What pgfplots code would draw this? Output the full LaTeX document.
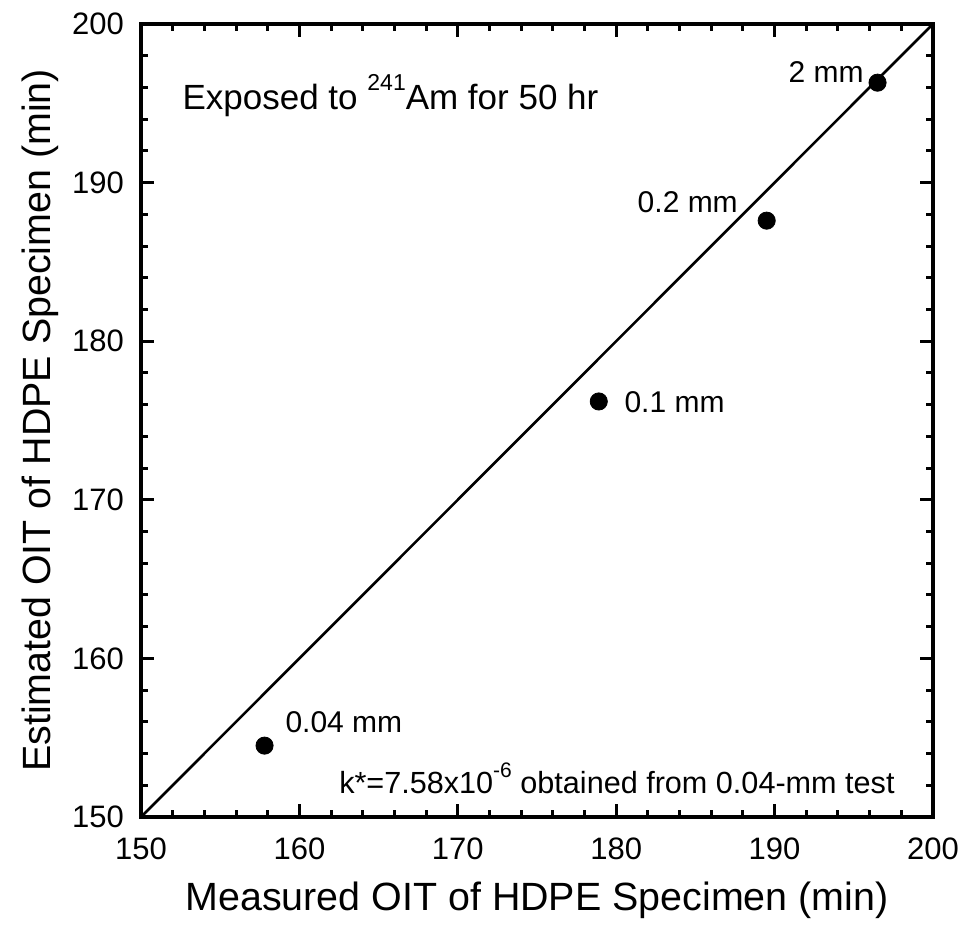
\documentclass[border=0pt]{standalone}
\usepackage{pgfplots}
\pgfplotsset{compat=1.18}
\usepackage{fontspec}
\setmainfont{Liberation Sans}

\begin{document}
\begin{tikzpicture}
\begin{axis}[
  name=main,
  scale only axis,
  width=396pt, height=396.5pt,
  xmin=150, xmax=200, ymin=150, ymax=200,
  xtick={150,160,...,200}, ytick={150,160,...,200},
  minor tick num=4,
  tick align=inside,
  xtick pos=both, ytick pos=both,
  major tick length=6.5pt, minor tick length=3.5pt,
  every tick/.style={line width=1.5pt, black},
  axis line style={line width=1.8pt},
  /pgf/number format/assume math mode=true,
  tick label style={font=\fontsize{15.5}{18}\selectfont},
  xticklabel style={yshift=-7pt},
  yticklabel style={xshift=-5pt},
  xlabel={Measured OIT of HDPE Specimen (min)},
  ylabel={Estimated OIT of HDPE Specimen (min)},
  label style={font=\fontsize{19.7}{23}\selectfont},
  xlabel style={at={(axis description cs:0.5,0)}, anchor=center, yshift=-41.5pt},
  ylabel style={at={(axis description cs:0,0.5)}, anchor=center, rotate=0, yshift=50.5pt},
  clip=false,
]
% one-to-one reference line
\addplot[black, line width=1.3pt] coordinates {(150,150) (200,200)};
% measured vs. estimated OIT
\addplot[only marks, mark=*, mark size=4.3pt, black] coordinates {
  (157.8,154.5)
  (178.9,176.2)
  (189.5,187.6)
  (196.5,196.3)
};
\node[anchor=base west, font=\fontsize{17.5}{20}\selectfont, inner sep=0pt] at (axis cs:152.6,194.6)
  {Exposed to \raisebox{0.55em}{\fontsize{11.5}{13}\selectfont 241}Am for 50 hr};
\node[anchor=base east, font=\fontsize{15}{18}\selectfont, inner sep=0pt] at (axis cs:195.65,196.3) {2 mm};
\node[anchor=base east, font=\fontsize{15}{18}\selectfont, inner sep=0pt] at (axis cs:187.7,188.1) {0.2 mm};
\node[anchor=base west, font=\fontsize{15}{18}\selectfont, inner sep=0pt] at (axis cs:180.5,175.5) {0.1 mm};
\node[anchor=base west, font=\fontsize{15}{18}\selectfont, inner sep=0pt] at (axis cs:159.1,155.3) {0.04 mm};
\node[anchor=base east, font=\fontsize{15.3}{18}\selectfont, inner sep=0pt] at (axis cs:197.6,151.5)
  {k*=7.58x10\raisebox{0.5em}{\fontsize{10.5}{12}\selectfont -6} obtained from 0.04-mm test};
\end{axis}
\pgfresetboundingbox
\path ([shift={(-70.5pt,-59pt)}]main.south west) rectangle ([shift={(15.5pt,12pt)}]main.north east);
\end{tikzpicture}
\end{document}
